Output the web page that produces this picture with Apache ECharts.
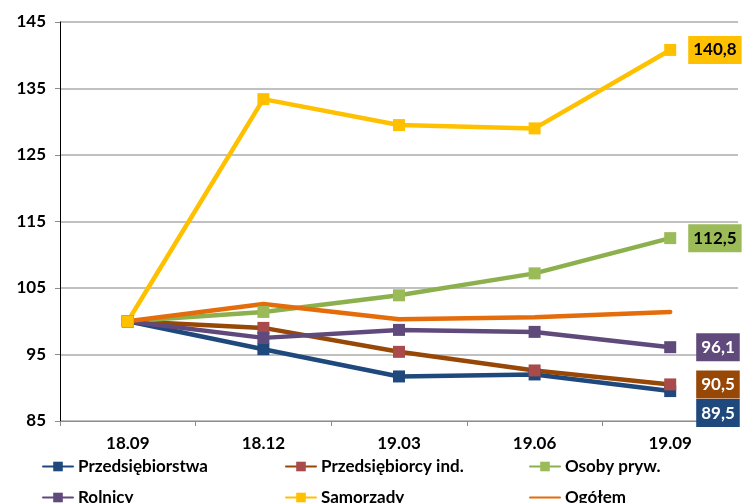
<!DOCTYPE html>
<html>
<head>
<meta charset="utf-8">
<script src="https://cdn.jsdelivr.net/npm/echarts@6/dist/echarts.min.js"></script>
<style>
  html, body { margin: 0; padding: 0; background: #fff; }
  #chart { width: 744px; height: 503px; }
</style>
</head>
<body>
<div id="chart"></div>
<script>
// Index values, 18.09 = 100
const categories = ['18.09', '18.12', '19.03', '19.06', '19.09'];
const yTicks = [85, 95, 105, 115, 125, 135, 145];

const przedsiebiorstwa  = [100, 95.8, 91.7, 92.0, 89.5];
const przedsiebiorcyInd = [100, 99.0, 95.4, 92.6, 90.5];
const osobyPryw         = [100, 101.4, 103.9, 107.2, 112.5];
const rolnicy           = [100, 97.5, 98.7, 98.4, 96.1];
const samorzady         = [100, 133.4, 129.5, 129.0, 140.8];
const ogolem            = [100, 102.6, 100.3, 100.6, 101.4];

const FONT = 'Lato, "Open Sans", sans-serif';

const fmt = v => v.toFixed(1).replace('.', ',');

// Only the last point of each series carries a value box
function withEndLabel(values, bg, textColor, offset) {
  return values.map((v, i) => {
    if (i !== values.length - 1) return v;
    return {
      value: v,
      label: {
        show: true,
        position: 'right',
        distance: 12,
        offset: offset || [0, 0],
        formatter: p => fmt(p.value),
        backgroundColor: bg,
        color: textColor,
        fontFamily: FONT,
        fontWeight: 'bold',
        fontSize: 17,
        lineHeight: 20,
        padding: [4, 5, 4, 5]
      }
    };
  });
}

function lineSeries(name, values, lineColor, markerColor, labelBg, labelText, offset, withSymbol) {
  return {
    name: name,
    type: 'line',
    data: withEndLabel(values, labelBg, labelText, offset),
    symbol: withSymbol === false ? 'none' : 'rect',
    symbolSize: 12,
    showSymbol: withSymbol !== false,
    color: markerColor,
    itemStyle: { color: markerColor },
    lineStyle: { color: lineColor, width: 4.5, cap: 'round', join: 'round' },
    emphasis: { disabled: true },
    animation: false
  };
}

const series = [
  lineSeries('Przedsiębiorstwa', przedsiebiorstwa, '#1F497D', '#1F497D', '#1F497D', '#FFFFFF', [8, 22]),
  lineSeries('Przedsiębiorcy ind.', przedsiebiorcyInd, '#974706', '#A94B4A', '#974706', '#FFFFFF', [8, 0]),
  lineSeries('Osoby pryw.', osobyPryw, '#8DB04E', '#9BBB59', '#9BBB59', '#000000', [0, 0]),
  lineSeries('Rolnicy', rolnicy, '#604A7B', '#604A7B', '#604A7B', '#FFFFFF', [8, 0]),
  lineSeries('Samorządy', samorzady, '#FFC000', '#FFC000', '#FFC000', '#000000', [0, 0]),
  lineSeries('Ogółem', ogolem, '#E46C0A', '#E46C0A', '#E46C0A', '#000000', [2, 0], false)
];

const legendText = { fontFamily: FONT, fontWeight: 'bold', fontSize: 17, lineHeight: 14, color: '#000' };
function legendColumn(left, names) {
  return {
    orient: 'vertical',
    left: left,
    top: 458,
    height: 80,
    itemGap: 14,
    itemWidth: 30,
    itemHeight: 12,
    data: names,
    textStyle: legendText,
    padding: 0,
    selectedMode: false
  };
}

const chart = echarts.init(document.getElementById('chart'), null, { renderer: 'canvas' });
chart.setOption({
  backgroundColor: '#FFFFFF',
  animation: false,
  grid: { left: 60, right: 6, top: 22, bottom: 82, containLabel: false },
  legend: [
    legendColumn(42, ['Przedsiębiorstwa', 'Rolnicy']),
    legendColumn(285, ['Przedsiębiorcy ind.', 'Samorządy']),
    legendColumn(529, ['Osoby pryw.', { name: 'Ogółem', itemStyle: { opacity: 0 } }])
  ],
  xAxis: {
    type: 'category',
    data: categories,
    boundaryGap: true,
    axisLine: { show: true, lineStyle: { color: '#8C8C8C', width: 1 } },
    axisTick: { show: true, length: 5, inside: false, lineStyle: { color: '#8C8C8C' } },
    axisLabel: { fontFamily: FONT, fontWeight: 'bold', fontSize: 17, color: '#000', margin: 14 },
    splitLine: { show: false }
  },
  yAxis: {
    type: 'value',
    min: yTicks[0],
    max: yTicks[yTicks.length - 1],
    interval: 10,
    axisLine: { show: true, lineStyle: { color: '#000000', width: 1 } },
    axisTick: { show: true, length: 5, lineStyle: { color: '#8C8C8C' } },
    axisLabel: { fontFamily: FONT, fontWeight: 'bold', fontSize: 17, color: '#000', margin: 14 },
    splitLine: { show: true, lineStyle: { color: '#ABABAB', width: 1.5 } }
  },
  series: series
});
</script>
</body>
</html>
